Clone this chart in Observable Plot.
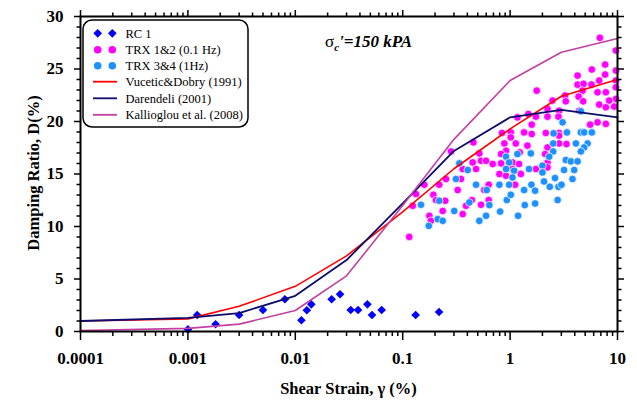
<!DOCTYPE html>
<html>
<head>
<meta charset="utf-8">
<script src="https://cdn.jsdelivr.net/npm/d3@7"></script>
<script src="https://cdn.jsdelivr.net/npm/@observablehq/plot@0.6"></script>
<style>
  html, body { margin: 0; padding: 0; background: #fff; }
</style>
</head>
<body>
<div id="chart"></div>
<script>
// ---------- data ----------
const xMajor = [0.0001, 0.001, 0.01, 0.1, 1, 10];
const xTickLabels = ["0.0001", "0.001", "0.01", "0.1", "1", "10"];
const yMajor = [0, 5, 10, 15, 20, 25, 30];

const seriesLabels = ["RC 1", "TRX 1&2 (0.1 Hz)", "TRX 3&4 (1Hz)",
  "Vucetic&Dobry (1991)", "Darendeli (2001)", "Kallioglou et al. (2008)"];

// RC 1 : [shear strain %, damping %]
const rc1 = [
  [0.001, 0.2], [0.00122, 1.57], [0.00181, 0.69], [0.003, 1.57], [0.005, 2.05],
  [0.008, 3.07], [0.0114, 1.07], [0.0128, 2.02], [0.0141, 2.59], [0.0218, 3.07],
  [0.0261, 3.55], [0.0328, 2.05], [0.0384, 2.05], [0.0469, 2.59], [0.0518, 1.57],
  [0.0637, 2.05], [0.132, 1.57], [0.218, 1.86]
];

// TRX 1&2 (0.1 Hz)
const trx12 = [
  [6.85, 27.97], [9.66, 26.76], [7.67, 25.42], [5.77, 24.95], [4.25, 24.37],
  [7.67, 24.47], [9.66, 24.85], [4.25, 23.51], [4.83, 23.58], [5.73, 23.51],
  [6.75, 23.9], [9.66, 23.9], [9.66, 23.26], [1.77, 22.94], [4.73, 22.94],
  [6.52, 22.78], [7.79, 22.78], [3.25, 22.47], [4.34, 22.37], [9.66, 22.15],
  [2.48, 21.99], [3.30, 21.92], [4.79, 21.92], [6.75, 21.61], [8.36, 21.99],
  [7.79, 21.35], [9.31, 21.42], [2.23, 21.2], [2.86, 21.03], [4.40, 21.03],
  [2.23, 20.46], [2.82, 20.46], [1.48, 20.72], [1.74, 20.46], [1.17, 20.39],
  [6.52, 19.92], [7.79, 19.77], [1.59, 19.7], [5.56, 19.7], [1.015, 18.96],
  [0.84, 18.91], [1.35, 18.96], [1.59, 18.81], [2.15, 18.91], [2.86, 18.91],
  [1.015, 18.49], [2.86, 18.65], [0.455, 18.01], [0.884, 17.91], [1.13, 17.91],
  [1.45, 17.7], [2.86, 17.91], [3.35, 17.85], [0.282, 17.15], [2.23, 17.53],
  [2.12, 16.9], [0.517, 16.96], [0.917, 17.22], [1.23, 17.06], [0.824, 16.9],
  [0.448, 16.1], [0.536, 16.26], [0.597, 16.26], [0.689, 15.95], [0.824, 16.01],
  [1.053, 16.1], [1.213, 15.95], [2.23, 16.1], [0.482, 15.47], [1.053, 15.47],
  [1.258, 15.05], [1.74, 15.47], [0.362, 15.47], [2.23, 15.63],
  [0.115, 9.01], [0.124, 11.97], [0.133, 13.09], [0.159, 13.98], [0.177, 11.02],
  [0.183, 10.54], [0.193, 13.02], [0.204, 12.52], [0.249, 12.45], [0.219, 13.98],
  [0.253, 14.52], [0.236, 11.48], [0.325, 13.47], [0.349, 14.52], [0.362, 11.18],
  [0.389, 11.97], [0.441, 12.52], [0.536, 12.07], [0.632, 13.98], [0.632, 12.52],
  [0.795, 15.0], [0.917, 14.83], [1.113, 13.98], [1.258, 15.0], [0.575, 13.47]
];

// TRX 3&4 (1Hz)
const trx34 = [
  [3.08, 19.92], [3.38, 18.96], [4.56, 18.96], [4.89, 18.96], [5.77, 18.96],
  [2.52, 17.91], [4.10, 17.91], [5.26, 17.91], [4.89, 17.53], [2.52, 17.15],
  [4.56, 17.15], [1.17, 16.9], [1.56, 16.96], [0.917, 16.65], [2.31, 16.65],
  [0.98, 16.1], [2.00, 15.79], [3.30, 16.33], [3.68, 16.2], [4.25, 16.2],
  [0.337, 16.01], [0.403, 15.38], [0.917, 15.47], [1.09, 15.31], [1.50, 15.47],
  [2.00, 15.15], [3.18, 15.38], [3.95, 15.38], [4.56, 20.97], [2.54, 18.87],
  [0.148, 12.07], [0.175, 10.06], [0.212, 10.7], [0.236, 10.54], [0.219, 12.45],
  [0.313, 14.52], [0.302, 11.48], [0.417, 12.29], [0.482, 13.98], [0.517, 10.54],
  [0.597, 11.02], [0.606, 13.47], [0.641, 12.04], [0.808, 11.42], [0.795, 13.98],
  [0.932, 12.52], [1.015, 13.02], [0.98, 13.98], [1.053, 14.67], [1.187, 11.02],
  [1.35, 13.47], [1.37, 12.04], [1.58, 13.98], [1.71, 13.41], [1.71, 12.19],
  [2.07, 14.29], [2.34, 13.78], [2.62, 14.61], [2.82, 13.78], [3.01, 13.98],
  [2.77, 12.52], [3.81, 14.52]
];

// Empirical curves
const curveStrain = [0.0001, 0.001, 0.003, 0.01, 0.03, 0.1, 0.3, 1, 3, 10];
const vuceticD    = [1.0, 1.2, 2.4, 4.3, 7.2, 11.4, 15.5, 19.3, 22.4, 24.0];
const darendeliD  = [1.0, 1.3, 1.75, 3.4, 6.8, 12.2, 17.2, 20.4, 21.1, 20.4];
const kalliogluD  = [0.1, 0.3, 0.7, 2.0, 5.3, 12.0, 18.3, 23.9, 26.6, 27.9];

// ---------- build ----------
const colors = { rc: "#0000ff", trx12: "#ff00ff", trx34: "#1e90ff",
  vucetic: "#ff0000", darendeli: "#0d0d6b", kallioglou: "#c43fa0" };

const curves = curveStrain.map((s, i) => ({
  strain: s, vucetic: vuceticD[i], darendeli: darendeliD[i], kallioglou: kalliogluD[i]
}));

const xMinor = [];
for (let e = -4; e < 1; e++) for (let k = 2; k <= 9; k++) xMinor.push(k * Math.pow(10, e));
const yMinor = d3.range(0, 31).filter(v => v % 5 !== 0);
const labelOf = new Map(xMajor.map((v, i) => [v, xTickLabels[i]]));
const blank = () => "";

const plot = Plot.plot({
  width: 637, height: 403,
  marginLeft: 80, marginRight: 20, marginTop: 16, marginBottom: 72,
  style: { fontFamily: "'Liberation Serif', 'Times New Roman', serif", fontSize: "17px",
           fontWeight: "bold", color: "black", background: "white" },
  x: { type: "log", domain: [1e-4, 10] },
  y: { domain: [0, 30] },
  marks: [
    Plot.dot(trx12, { x: d => d[0], y: d => d[1], r: 3.8, fill: colors.trx12, stroke: "white", strokeWidth: 0.7 }),
    Plot.dot(trx34, { x: d => d[0], y: d => d[1], r: 3.8, fill: colors.trx34, stroke: "white", strokeWidth: 0.7 }),
    Plot.dot(rc1, { x: d => d[0], y: d => d[1], r: 3.9, symbol: "diamond2", fill: colors.rc }),
    Plot.line(curves, { x: "strain", y: "vucetic", stroke: colors.vucetic, strokeWidth: 1.6 }),
    Plot.line(curves, { x: "strain", y: "darendeli", stroke: colors.darendeli, strokeWidth: 1.8 }),
    Plot.line(curves, { x: "strain", y: "kallioglou", stroke: colors.kallioglou, strokeWidth: 1.6 }),
    Plot.axisX({ anchor: "bottom", ticks: xMajor, tickSize: 9, tickPadding: 11, strokeWidth: 1.5,
                 tickFormat: d => labelOf.get(d), label: null }),
    Plot.axisX({ anchor: "bottom", ticks: xMinor, tickSize: 5, strokeWidth: 1.5, tickFormat: blank, label: null }),
    Plot.axisX({ anchor: "top", ticks: xMajor, tickSize: 7, strokeWidth: 1.5, tickFormat: blank, label: null }),
    Plot.axisX({ anchor: "top", ticks: xMinor, tickSize: 4.5, strokeWidth: 1.5, tickFormat: blank, label: null }),
    Plot.axisY({ anchor: "left", ticks: yMajor, tickSize: 6, tickPadding: 11, strokeWidth: 1.5, label: null }),
    Plot.axisY({ anchor: "left", ticks: yMinor, tickSize: 3.5, strokeWidth: 1.5, tickFormat: blank, label: null }),
    Plot.axisY({ anchor: "right", ticks: yMajor, tickSize: 6, strokeWidth: 1.5, tickFormat: blank, label: null }),
    Plot.axisY({ anchor: "right", ticks: yMinor, tickSize: 3.5, strokeWidth: 1.5, tickFormat: blank, label: null }),
    Plot.frame({ stroke: "black", strokeWidth: 2 })
  ]
});

document.getElementById("chart").appendChild(plot);
const svg = d3.select(plot);
const serif = "'Liberation Serif', 'Times New Roman', serif";

// axis titles
svg.append("text").attr("x", 348.5).attr("y", 394).attr("text-anchor", "middle")
  .style("font-family", serif).style("font-size", "16.5px").style("font-weight", "bold")
  .text("Shear Strain, γ (%)");
svg.append("text").attr("transform", "translate(39,173) rotate(-90)").attr("text-anchor", "middle")
  .style("font-family", serif).style("font-size", "16.5px").style("font-weight", "bold")
  .text("Damping Ratio, D(%)");

// annotation
const ann = svg.append("text").attr("x", 325).attr("y", 46.5).attr("text-anchor", "start")
  .style("text-anchor", "start")
  .style("font-family", serif).style("font-size", "17px");
ann.append("tspan").style("font-weight", "normal").text("σ");
ann.append("tspan").attr("dy", 4).style("font-size", "11px").style("font-style", "italic").style("font-weight", "bold").text("c");
ann.append("tspan").attr("dy", -4).style("font-style", "italic").style("font-weight", "bold").text("'=150 kPA");

// legend
const lg = svg.append("g").style("font-family", serif).style("font-weight", "normal")
  .style("font-size", "12.5px").style("text-anchor", "start");
lg.append("rect").attr("x", 83).attr("y", 20).attr("width", 165).attr("height", 107).attr("rx", 9)
  .attr("fill", "white").attr("stroke", "black").attr("stroke-width", 1.5);
const rowY = [33.3, 49.8, 65.7, 81.7, 98.3, 114.8];
const symX = [97.7, 112.3];
const diamondPath = d3.symbol(d3.symbolDiamond2, Math.PI * 3.9 * 3.9)();
symX.forEach(x => {
  lg.append("path").attr("d", diamondPath).attr("transform", `translate(${x},${rowY[0]})`).attr("fill", colors.rc);
  lg.append("circle").attr("cx", x).attr("cy", rowY[1]).attr("r", 3.8).attr("fill", colors.trx12);
  lg.append("circle").attr("cx", x).attr("cy", rowY[2]).attr("r", 3.8).attr("fill", colors.trx34);
});
[colors.vucetic, colors.darendeli, colors.kallioglou].forEach((c, i) => {
  lg.append("line").attr("x1", 93).attr("x2", 117).attr("y1", rowY[3 + i]).attr("y2", rowY[3 + i])
    .attr("stroke", c).attr("stroke-width", 1.8);
});
seriesLabels.forEach((t, i) => {
  lg.append("text").attr("x", 125.5).attr("y", rowY[i] + 4.5).attr("fill", "black")
    .attr("text-anchor", "start").text(t);
});
</script>
</body>
</html>
